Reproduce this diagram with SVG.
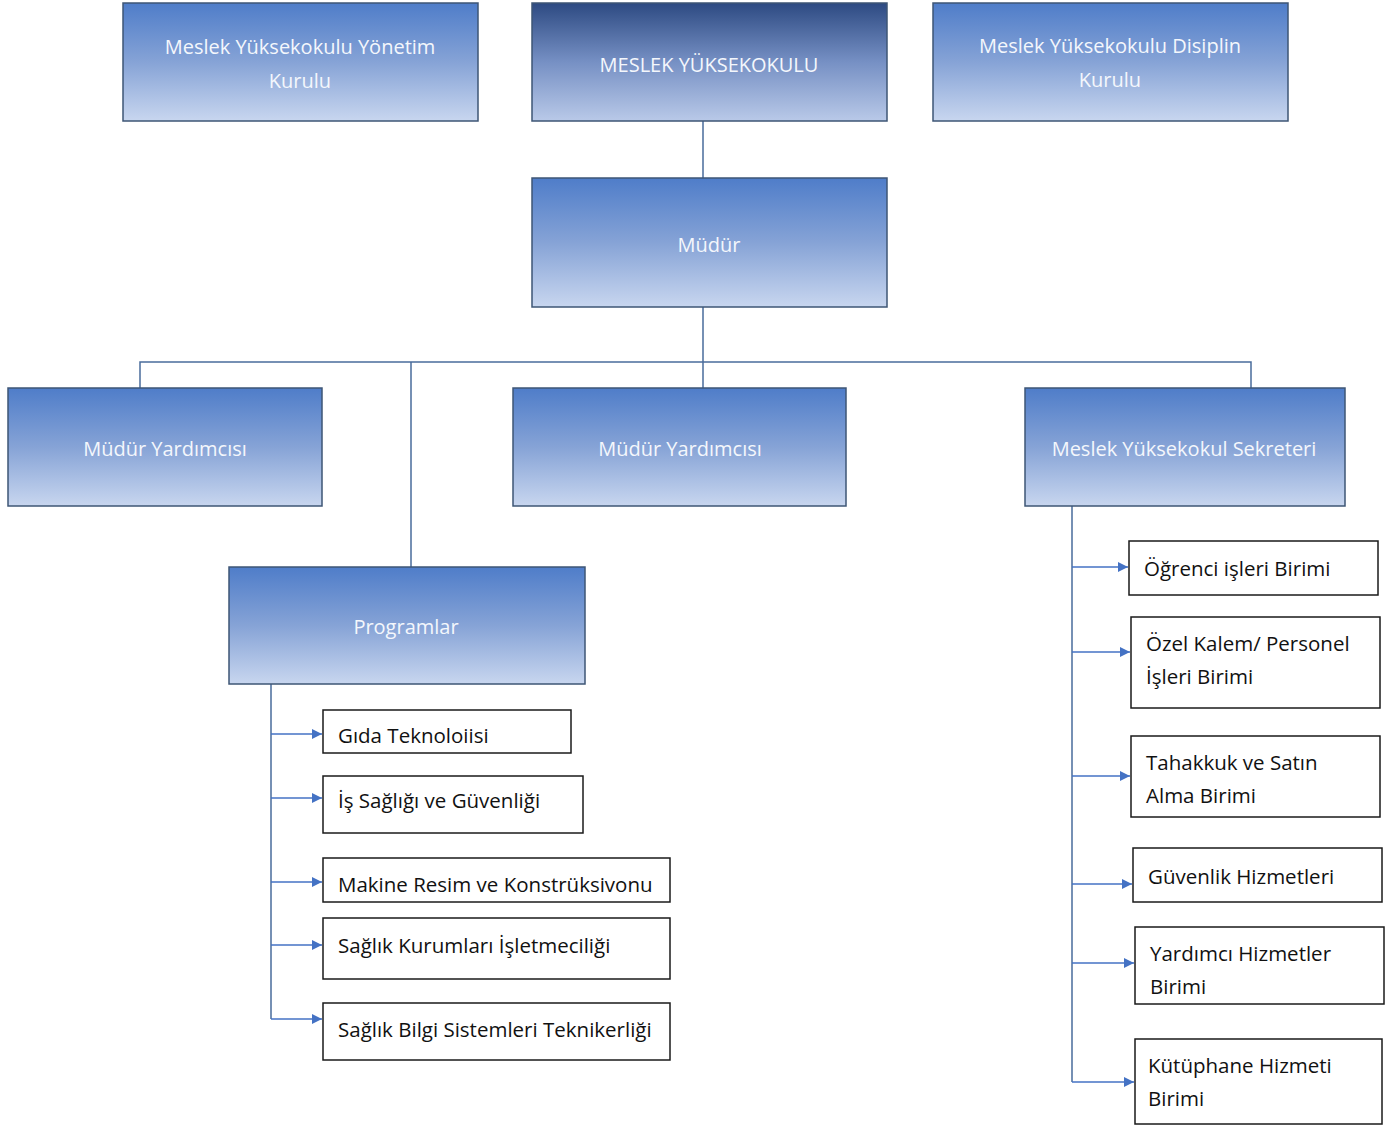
<svg xmlns="http://www.w3.org/2000/svg" width="1395" height="1126" viewBox="0 0 1395 1126">
<defs>
<linearGradient id="g" x1="0" y1="0" x2="0" y2="1">
<stop offset="0" stop-color="#4f7dc9"/>
<stop offset="0.5" stop-color="#86a3d6"/>
<stop offset="1" stop-color="#c8d6ef"/>
</linearGradient>
<linearGradient id="gd" x1="0" y1="0" x2="0" y2="1">
<stop offset="0" stop-color="#2d4a82"/>
<stop offset="0.5" stop-color="#7690c4"/>
<stop offset="1" stop-color="#b9c9e8"/>
</linearGradient>
<marker id="ar" viewBox="0 0 10 10" refX="10" refY="5" markerWidth="10" markerHeight="10" markerUnits="userSpaceOnUse" orient="auto">
<path d="M0,0 L10,5 L0,10 z" fill="#4472c4"/>
</marker>
<style>
.bb{stroke:#3e5675;stroke-width:1.5}
.wb{fill:#fff;stroke:#1a1a1a;stroke-width:1.5}
.tw{font-family:"Open Sans","Noto Sans",sans-serif;font-size:20px;fill:#f4f7fc;text-anchor:middle}
.tb{font-family:"Open Sans","Noto Sans",sans-serif;font-size:20.5px;fill:#111}
.ln{stroke:#4a6c9c;stroke-width:1.5;fill:none}
.ac{stroke:#4472c4;stroke-width:1.5;fill:none;marker-end:url(#ar)}
</style>
</defs>
<rect width="1395" height="1126" fill="#fff"/>
<g id="connectors">
<path class="ln" d="M703,121 V178 M703,307 V388 M140,388 V362 H1251 V388 M411,362 V567 M271,684 V1019 M1072,506 V1082"/>
<path class="ac" d="M271,734 H322"/>
<path class="ac" d="M271,798 H322"/>
<path class="ac" d="M271,882 H322"/>
<path class="ac" d="M271,945 H322"/>
<path class="ac" d="M271,1019 H322"/>
<path class="ac" d="M1072,567 H1128"/>
<path class="ac" d="M1072,652 H1130"/>
<path class="ac" d="M1072,776 H1130"/>
<path class="ac" d="M1072,884 H1132"/>
<path class="ac" d="M1072,963 H1134"/>
<path class="ac" d="M1072,1082 H1134"/>
</g>
<g id="n-yonetim"><rect class="bb" x="123" y="3" width="355" height="118" fill="url(#g)"/><text class="tw" x="300" y="54">Meslek Yüksekokulu Yönetim</text><text class="tw" x="300" y="88">Kurulu</text></g>
<g id="n-myo"><rect class="bb" x="532" y="3" width="355" height="118" fill="url(#gd)"/><text class="tw" x="709" y="72">MESLEK YÜKSEKOKULU</text></g>
<g id="n-disiplin"><rect class="bb" x="933" y="3" width="355" height="118" fill="url(#g)"/><text class="tw" x="1110" y="53">Meslek Yüksekokulu Disiplin</text><text class="tw" x="1110" y="87">Kurulu</text></g>
<g id="n-mudur"><rect class="bb" x="532" y="178" width="355" height="129" fill="url(#g)"/><text class="tw" x="709" y="252">Müdür</text></g>
<g id="n-my1"><rect class="bb" x="8" y="388" width="314" height="118" fill="url(#g)"/><text class="tw" x="165" y="456">Müdür Yardımcısı</text></g>
<g id="n-my2"><rect class="bb" x="513" y="388" width="333" height="118" fill="url(#g)"/><text class="tw" x="680" y="456">Müdür Yardımcısı</text></g>
<g id="n-sek"><rect class="bb" x="1025" y="388" width="320" height="118" fill="url(#g)"/><text class="tw" x="1184" y="456">Meslek Yüksekokul Sekreteri</text></g>
<g id="n-prog"><rect class="bb" x="229" y="567" width="356" height="117" fill="url(#g)"/><text class="tw" x="406" y="634">Programlar</text></g>
<g id="n-gida"><rect class="wb" x="323" y="710" width="248" height="43"/><text class="tb" x="338" y="743">Gıda Teknoloiisi</text></g>
<g id="n-is"><rect class="wb" x="323" y="776" width="260" height="57"/><text class="tb" x="338" y="808">İş Sağlığı ve Güvenliği</text></g>
<g id="n-makine"><rect class="wb" x="323" y="858" width="347" height="44"/><text class="tb" x="338" y="892">Makine Resim ve Konstrüksivonu</text></g>
<g id="n-saglik"><rect class="wb" x="323" y="918" width="347" height="61"/><text class="tb" x="338" y="953">Sağlık Kurumları İşletmeciliği</text></g>
<g id="n-bilgi"><rect class="wb" x="323" y="1003" width="347" height="57"/><text class="tb" x="338" y="1037">Sağlık Bilgi Sistemleri Teknikerliği</text></g>
<g id="n-ogr"><rect class="wb" x="1129" y="541" width="249" height="54"/><text class="tb" x="1144" y="576">Öğrenci işleri Birimi</text></g>
<g id="n-ozel"><rect class="wb" x="1131" y="617" width="249" height="91"/><text class="tb" x="1146" y="651">Özel Kalem/ Personel</text><text class="tb" x="1146" y="684">İşleri Birimi</text></g>
<g id="n-tah"><rect class="wb" x="1131" y="736" width="249" height="81"/><text class="tb" x="1146" y="770">Tahakkuk ve Satın</text><text class="tb" x="1146" y="803">Alma Birimi</text></g>
<g id="n-guv"><rect class="wb" x="1133" y="848" width="249" height="54"/><text class="tb" x="1148" y="884">Güvenlik Hizmetleri</text></g>
<g id="n-yar"><rect class="wb" x="1135" y="927" width="249" height="77"/><text class="tb" x="1150" y="961">Yardımcı Hizmetler</text><text class="tb" x="1150" y="994">Birimi</text></g>
<g id="n-kut"><rect class="wb" x="1135" y="1039" width="247" height="85"/><text class="tb" x="1148" y="1073">Kütüphane Hizmeti</text><text class="tb" x="1148" y="1106">Birimi</text></g>
</svg>
